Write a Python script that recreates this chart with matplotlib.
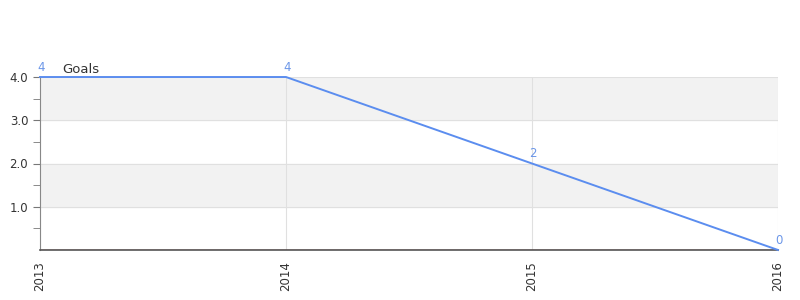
import matplotlib
matplotlib.use("Agg")
import matplotlib.pyplot as plt

years = ["2013", "2014", "2015", "2016"]
goals = [4, 4, 2, 0]
series_name = "Goals"

fig = plt.figure(figsize=(8, 3), dpi=100)
ax = fig.add_axes([0.05, 0.1667, 0.9225, 0.5766])

x = list(range(len(years)))

# alternating bands
for i in range(4):
    if i % 2 == 1:
        ax.axhspan(i, i + 1, color="#f2f2f2", zorder=0)

ax.plot(x, goals, color="#5b8def", lw=1.4, zorder=4, clip_on=False)
ax.axhline(0, color="#cc0000", lw=1, zorder=2)

for xi, v in zip(x, goals):
    ax.text(xi + 0.005, v + 0.08, str(v), color="#6b96e8", fontsize=8.5, ha="center",
            va="bottom", clip_on=False)

ax.text(0.03, 1.005, series_name, transform=ax.transAxes, fontsize=9.5, color="#333333", va="bottom")

ax.set_xlim(0, 3)
ax.set_ylim(0, 4)
ax.set_xticks(x)
ax.set_xticklabels(years, rotation=90, fontsize=8.5, color="#333333")
ax.set_yticks([1, 2, 3, 4])
ax.set_yticklabels(["1.0", "2.0", "3.0", "4.0"], fontsize=8.5, color="#333333")
ax.set_yticks([0.5, 1.5, 2.5, 3.5], minor=True)
ax.tick_params(axis="y", which="both", length=5, color="#777777")
ax.tick_params(axis="x", length=0, pad=8)

ax.grid(True, color="#e0e0e0", lw=0.8, zorder=1)
ax.set_axisbelow(True)

for s in ["top", "right"]:
    ax.spines[s].set_visible(False)
ax.spines["left"].set_color("#888888")
ax.spines["bottom"].set_color("#555555")
ax.spines["bottom"].set_linewidth(1.2)

fig.savefig("out.png", dpi=100)
